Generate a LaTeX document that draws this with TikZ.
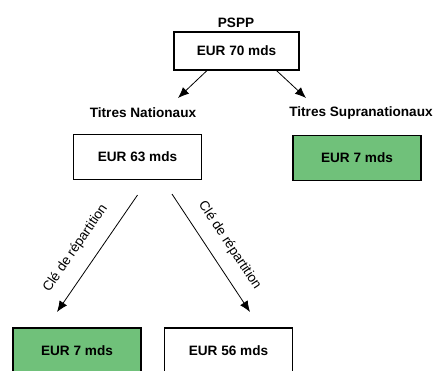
\documentclass[tikz,border=0pt]{standalone}
\usepackage{fontspec}
\setmainfont{Liberation Sans}
\usepackage{tikz}
\usetikzlibrary{arrows.meta,positioning}
\definecolor{vert}{RGB}{112,193,122}

\begin{document}
\begin{tikzpicture}[x=1pt,y=-1pt]
    \tikzstyle{every node}+=[inner sep=0pt, font=\bfseries\fontsize{13.6}{16}\selectfont]
    \tikzstyle{montant}=[draw=black, line width=1.1pt, minimum width=128pt, minimum height=45pt]
    \tikzstyle{fleche}=[black, line width=0.8pt, -{Latex[length=11pt,width=9pt]}]
    \tikzstyle{cle}=[font=\mdseries\fontsize{13.5}{16}\selectfont, sloped]
    \useasboundingbox (0,0) rectangle (433,370);
    \node (pspp) at (236,23) {PSPP};
    \node [montant, minimum width=125pt, minimum height=38pt] (total) at (236.5,51) {EUR 70 mds};
    \node (natlabel) at (143,113) {Titres Nationaux};
    \node (supralabel) at (361,113) {Titres Supranationaux};
    \node [montant] (nat) at (137.5,157) {EUR 63 mds};
    \node [montant, fill=vert] (supra) at (357,158) {EUR 7 mds};
    \node [montant, fill=vert] (natA) at (77,350.5) {EUR 7 mds};
    \node [montant] (natB) at (228.5,350.5) {EUR 56 mds};
    \coordinate (tipnat) at (178,98);
    \coordinate (tipsupra) at (306,98);
    \coordinate (tipA) at (57,312);
    \coordinate (tipB) at (250,312);
    \draw [fleche] ([xshift=-29.5pt]total.south) -- (tipnat);
    \draw [fleche] ([xshift=40pt]total.south) -- (tipsupra);
    \draw [fleche] ([yshift=-15pt]nat.south) -- node [cle, pos=0.556, above=14pt] (cleA) {Clé de répartition} (tipA);
    \draw [fleche] ([xshift=34.5pt,yshift=-14pt]nat.south) -- node [cle, pos=0.527, above=13pt] (cleB) {Clé de répartition} (tipB);
\end{tikzpicture}
\end{document}
